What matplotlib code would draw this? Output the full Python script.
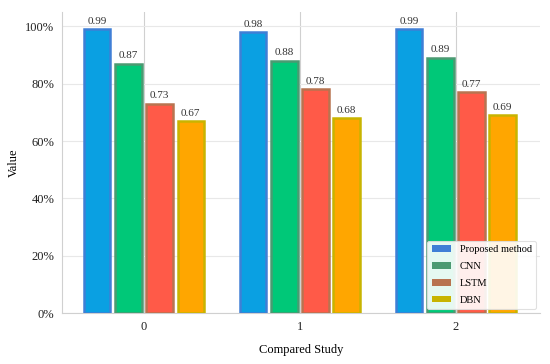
import matplotlib
matplotlib.use("Agg")
import matplotlib.pyplot as plt
import numpy as np
from matplotlib.patches import Patch
from matplotlib.ticker import FuncFormatter

categories = ["0", "1", "2"]
methods = ["Proposed method", "CNN", "LSTM", "DBN"]
proposed = [0.99, 0.98, 0.99]
cnn = [0.87, 0.88, 0.89]
lstm = [0.73, 0.78, 0.77]
dbn = [0.67, 0.68, 0.69]
series = [proposed, cnn, lstm, dbn]

face_colors = ["#0aa0e2", "#00c878", "#ff5a48", "#ffa600"]
edge_colors = ["#3f7fd6", "#4c9a72", "#b87450", "#c8b400"]

plt.rcParams["font.family"] = ["Liberation Serif", "DejaVu Serif"]

fig = plt.figure(figsize=(5.5, 3.64), dpi=100)
ax = fig.add_axes([0.113, 0.14, 0.869, 0.827])

x = np.arange(len(categories))
width = 0.17
step = 0.2
for i, vals in enumerate(series):
    off = (i - 1.5) * step
    bars = ax.bar(x + off, vals, width, color=face_colors[i],
                  edgecolor=edge_colors[i], linewidth=1.8, zorder=3)
    for b, v in zip(bars, vals):
        ax.text(b.get_x() + b.get_width() / 2, v + 0.012, f"{v:.2f}",
                ha="center", va="bottom", fontsize=8, color="#333333", zorder=4)

ax.set_xlim(-0.525, 2.54)
ax.set_ylim(0, 1.05)
ax.set_xticks(x)
ax.set_xticklabels(categories)
ax.set_yticks([0, 0.2, 0.4, 0.6, 0.8, 1.0])
ax.yaxis.set_major_formatter(FuncFormatter(lambda v, p: f"{v*100:.0f}%"))
ax.tick_params(axis="both", labelsize=9, length=0, colors="#222222")
ax.tick_params(axis="y", pad=5.5)
ax.tick_params(axis="x", pad=6)
ax.set_xlabel("Compared Study", fontsize=9, labelpad=8)
ax.set_ylabel("Value", fontsize=9, labelpad=4)

ax.grid(axis="y", color="#e8e8e8", linewidth=0.8, zorder=0)
ax.grid(axis="x", color="#d0d0d0", linewidth=0.8, zorder=0)
for s in ["top", "right"]:
    ax.spines[s].set_visible(False)
for s in ["left", "bottom"]:
    ax.spines[s].set_color("#d0d0d0")
    ax.spines[s].set_linewidth(0.8)

handles = [Patch(facecolor=edge_colors[i], label=methods[i]) for i in range(4)]
leg = ax.legend(handles=handles, loc="lower right", fontsize=7.5, frameon=True,
                handlelength=1.9, handleheight=0.6, labelspacing=0.75,
                borderaxespad=0.4, framealpha=0.9)
leg.get_frame().set_edgecolor("#dddddd")
leg.get_frame().set_linewidth(0.8)

fig.savefig("out.png", dpi=100)
